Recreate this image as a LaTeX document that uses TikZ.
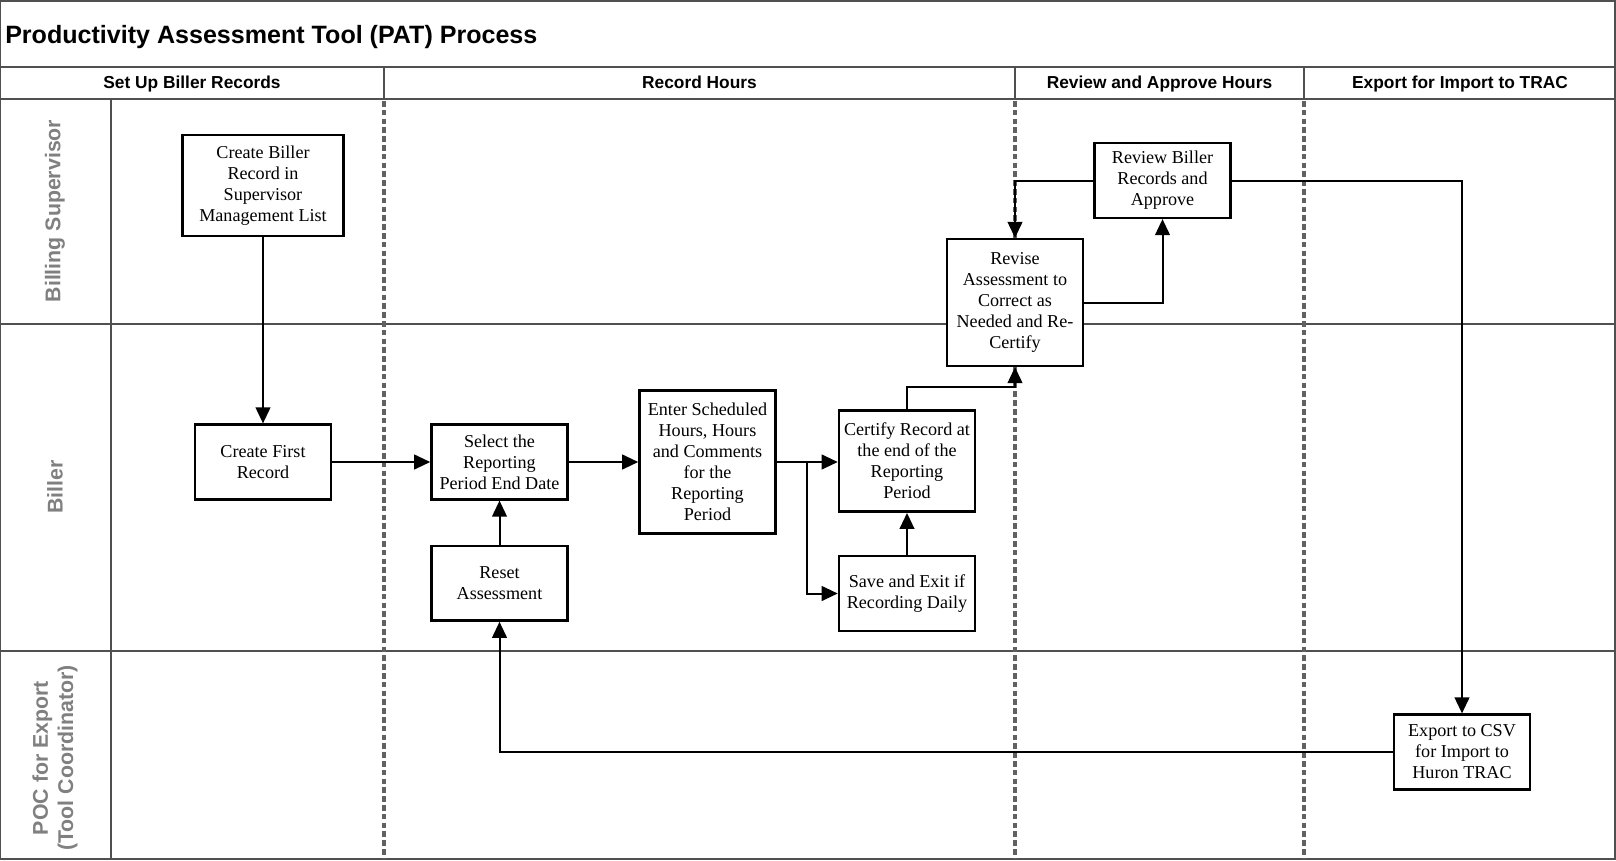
\documentclass[tikz,border=0pt]{standalone}
\usepackage{fontspec}
\setmainfont{Liberation Serif}
\setsansfont{Liberation Sans}
\usepackage{tikz}
\usetikzlibrary{arrows.meta,positioning}
\definecolor{laneline}{RGB}{80,80,80}
\definecolor{lanetext}{RGB}{128,128,128}

\begin{document}
\begin{tikzpicture}[x=0.75pt, y=-0.75pt, node distance=33pt and 20pt,
	procbox/.style={draw=black, line width=1.9pt, fill=white, align=center, inner sep=1pt, minimum width=102pt, minimum height=56pt, font=\fontsize{13.6}{15.8}\selectfont},
	flow/.style={-{Triangle[length=12pt, width=11pt]}, line width=1.5pt},
	lanelabel/.style={rotate=90, align=center, text=lanetext, font=\sffamily\bfseries\fontsize{16}{19}\selectfont},
	phase/.style={text height=1.5ex, text depth=.25ex, font=\sffamily\bfseries\fontsize{13}{15}\selectfont},
	border/.style={draw=laneline, line width=1.1pt},
	phaseline/.style={draw=laneline!90, line width=2.3pt, dash pattern=on 4.2pt off 2.4pt}]
	\useasboundingbox (0,0) rectangle (1616,860);

	\draw[border] (0,1) rectangle (1615,859);
	\draw[border] (0,67) -- (1615,67);
	\draw[border] (0,99) -- (1615,99);
	\draw[border] (0,324) -- (1615,324);
	\draw[border] (0,651) -- (1615,651);
	\draw[border] (111,99) -- (111,859);
	\foreach \xcol in {384,1015,1304} {
		\draw[border] (\xcol,67) -- (\xcol,99);
		\draw[phaseline] (\xcol,101) -- (\xcol,859);
	}

	\node[anchor=west, inner sep=0pt, font=\sffamily\bfseries\fontsize{18.8}{22}\selectfont] (title) at (5,37.5) {Productivity Assessment Tool (PAT) Process};

	\node[phase] (setup) at (192,85) {Set Up Biller Records};
	\node[phase] (record) at (699.5,85) {Record Hours};
	\node[phase] (approve) at (1159.5,85) {Review and Approve Hours};
	\node[phase] (exportcol) at (1460,85) {Export for Import to TRAC};

	\node[lanelabel] (supervisor) at (55,211) {Billing Supervisor};
	\node[lanelabel] (biller) at (55,487) {Biller};
	\node[lanelabel] (poc) at (55,758) {POC for Export\\(Tool Coordinator)};

	\node[procbox, minimum width=121pt, minimum height=76pt] (bsetup) at (263,185.5) {Create Biller\\Record in\\Supervisor\\Management List};

	\node[procbox] (first) at (263,462) {Create First\\Record};

	\node[procbox] (select) at (499.5,462) {Select the\\Reporting\\Period End Date};

	\node[procbox, below=of select] (reset) {Reset\\Assessment};

	\node[procbox, minimum height=107pt] (enter) at (707.5,462) {Enter Scheduled\\Hours, Hours\\and Comments\\for the\\Reporting\\Period};

	\node[procbox, minimum height=76pt] (certify) at (907,461) {Certify Record at\\the end of the\\Reporting\\Period};

	\node[procbox] (save) at (907,593.5) {Save and Exit if\\Recording Daily};

	\node[procbox, minimum height=95pt] (revise) at (1015,302.5) {Revise\\Assessment to\\Correct as\\Needed and Re-\\Certify};

	\node[procbox] (review) at (1162.5,180.5) {Review Biller\\Records and\\Approve};

	\node[procbox] (export) at (1462,752) {Export to CSV\\for Import to\\Huron TRAC};

	\coordinate (split) at (807,462);
	\coordinate (certup) at (907,387);

	\draw[flow] (bsetup) -- (first);
	\draw[flow] (first) -- (select);
	\draw[flow] (reset) -- (select);
	\draw[flow] (select) -- (enter);
	\draw[flow] (enter.east) -- (enter.east -| certify.west);
	\draw[flow] (split) |- (save);
	\draw[flow] (save) -- (certify);
	\draw[flow] (certify) -- (certup) -| (revise);
	\draw[flow] (revise) -| (review);
	\draw[flow] (review) -| (revise);
	\draw[flow] (review) -| (export);
	\draw[flow] (export) -| (reset);
\end{tikzpicture}
\end{document}
